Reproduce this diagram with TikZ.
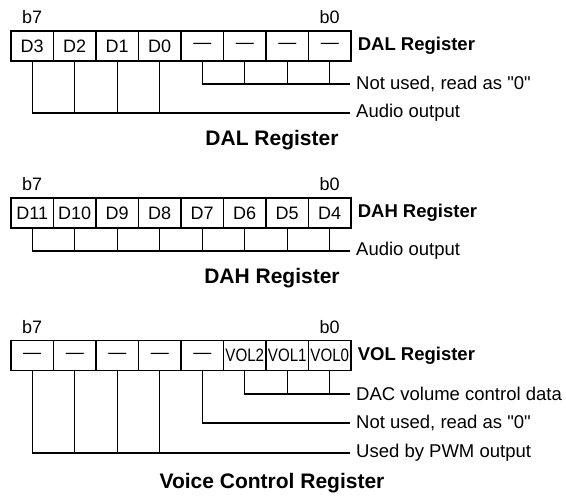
\documentclass[tikz,border=0pt]{standalone}
\usepackage{graphicx}
\usepackage{fontspec}
\setmainfont{Liberation Sans}
\usetikzlibrary{positioning}

\newcommand{\volbit}[1]{\scalebox{0.84}[1]{#1}}

\begin{document}
\begin{tikzpicture}[x=1pt, y=-1pt,
    cell/.style={draw, line width=1.2pt, minimum width=42.5pt, minimum height=30pt, inner sep=0pt, font=\fontsize{18}{20}\selectfont},
    bitno/.style={font=\fontsize{18}{20}\selectfont},
    regname/.style={inner xsep=6pt, font=\fontsize{18.5}{22}\selectfont\bfseries},
    note/.style={anchor=west, inner xsep=6pt, inner ysep=0pt, font=\fontsize{18.5}{22}\selectfont},
    title/.style={font=\fontsize{21}{24}\selectfont\bfseries},
    wire/.style={line width=1.2pt}
  ]
  \useasboundingbox (0,0) rectangle (566,498);

  % DAL register
  \foreach \t [count=\i from 0] in {D3,D2,D1,D0,---,---,---,---} {
    \pgfmathtruncatemacro\b{7-\i}
    \node[cell] (dal\b) at (32.25+\i*42.5, 46) {\t};
  }
  \node[bitno, above=3pt of dal7] (dalb7) {b7};
  \node[bitno, above=3pt of dal0] (dalb0) {b0};
  \node[regname, right=0pt of dal0] (dalname) {DAL Register};
  \node[note] (dalnu) at (350, 84) {Not used, read as \textquotedbl 0\textquotedbl};
  \node[note] (dalout) at (350, 113) {Audio output};
  \foreach \b in {0,...,3} \draw[wire] (dal\b.south) |- (dalnu.west);
  \foreach \b in {4,...,7} \draw[wire] (dal\b.south) |- (dalout.west);
  \node[title] (daltitle) at (272, 140) {DAL Register};

  % DAH register
  \foreach \t [count=\i from 0] in {D11,D10,D9,D8,D7,D6,D5,D4} {
    \pgfmathtruncatemacro\b{7-\i}
    \node[cell] (dah\b) at (32.25+\i*42.5, 213) {\t};
  }
  \node[bitno, above=3pt of dah7] (dahb7) {b7};
  \node[bitno, above=3pt of dah0] (dahb0) {b0};
  \node[regname, right=0pt of dah0] (dahname) {DAH Register};
  \node[note] (dahout) at (350, 251) {Audio output};
  \foreach \b in {0,...,7} \draw[wire] (dah\b.south) |- (dahout.west);
  \node[title] (dahtitle) at (272, 278) {DAH Register};

  % VOL register
  \foreach \t [count=\i from 0] in {---,---,---,---,---,\volbit{VOL2},\volbit{VOL1},\volbit{VOL0}} {
    \pgfmathtruncatemacro\b{7-\i}
    \node[cell] (vol\b) at (32.25+\i*42.5, 355.5) {\t};
  }
  \node[bitno, above=3pt of vol7] (volb7) {b7};
  \node[bitno, above=3pt of vol0] (volb0) {b0};
  \node[regname, right=0pt of vol0] (volname) {VOL Register};
  \node[note] (voldac) at (350, 394) {DAC volume control data};
  \node[note] (volnu) at (350, 423) {Not used, read as \textquotedbl 0\textquotedbl};
  \node[note] (volpwm) at (350, 453) {Used by PWM output};
  \foreach \b in {0,...,2} \draw[wire] (vol\b.south) |- (voldac.west);
  \draw[wire] (vol3.south) |- (volnu.west);
  \foreach \b in {4,...,7} \draw[wire] (vol\b.south) |- (volpwm.west);
  \node[title] (voltitle) at (272, 483) {Voice Control Register};
\end{tikzpicture}
\end{document}
